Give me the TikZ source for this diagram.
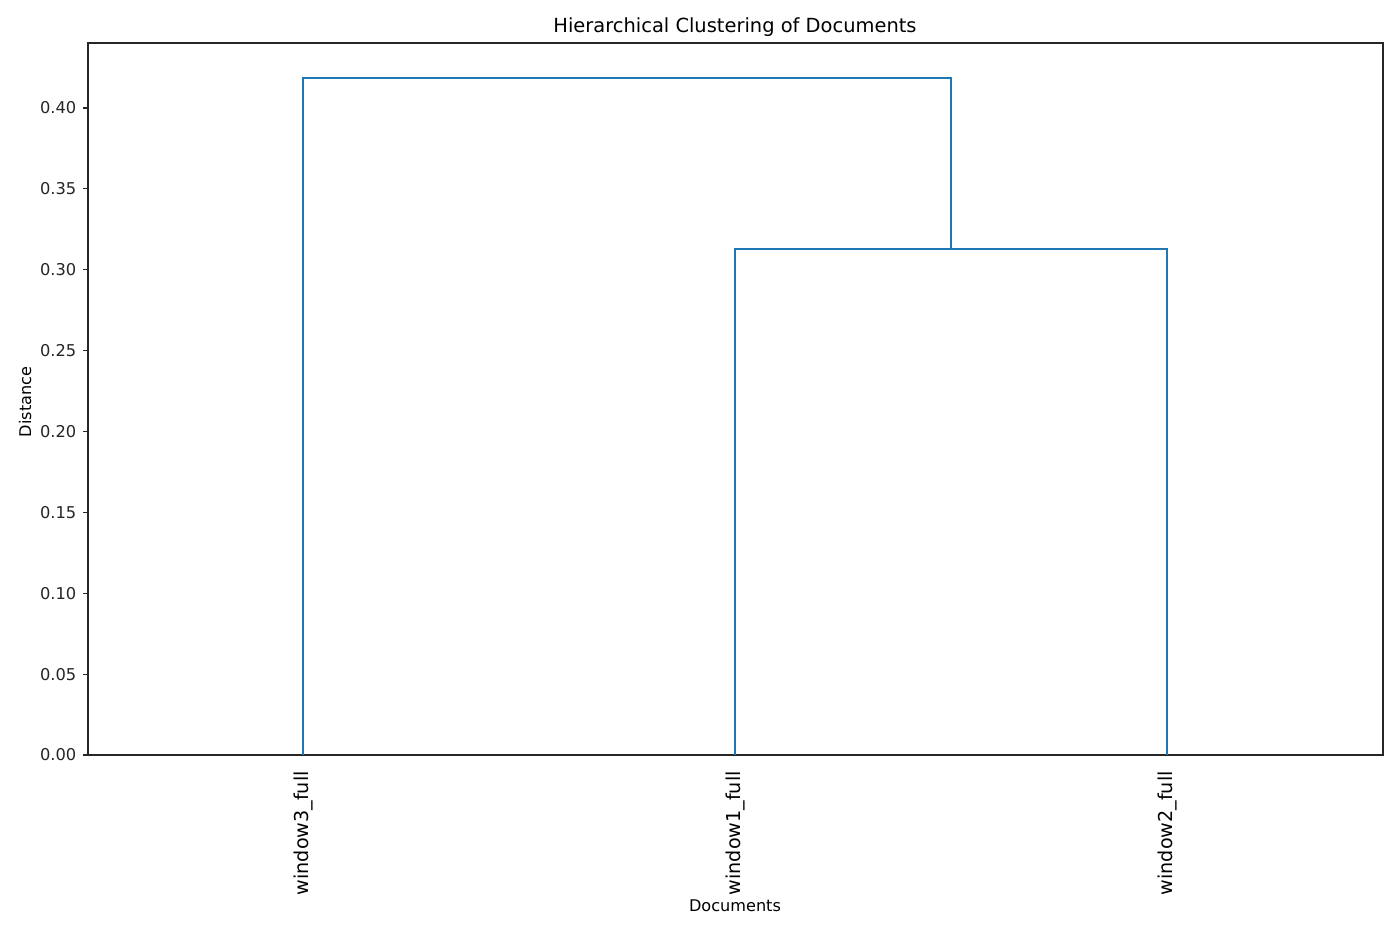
\documentclass[tikz,border=0pt]{standalone}
\usepackage{fontspec}
\setmainfont{DejaVu Sans}
\usetikzlibrary{positioning}
\definecolor{linkblue}{HTML}{1F77B4}
\tikzset{
  link/.style={linkblue, line width=1.5pt},
  axisline/.style={black!85, line width=0.8pt},
  ticklabel/.style={anchor=east, inner sep=0pt, font=\fontsize{11.7}{14}\selectfont},
  leaflabel/.style={rotate=90, anchor=east, inner sep=0pt, font=\fontsize{13.8}{16}\selectfont},
  axislabel/.style={inner sep=0pt, font=\fontsize{11.6}{14}\selectfont},
}

\begin{document}
\begin{tikzpicture}[x=0.72pt, y=-0.72pt]
\def\yz{755} %pixel row of distance 0
\def\ys{1617.5} %pixels per unit of distance
\useasboundingbox (0,0) rectangle (1400,933);
\fill[white] (0,0) rectangle (1400,933);
% frame of the axes
\draw[axisline] (88,43) rectangle (1383,755);
% y ticks and their labels
\foreach \v/\t [count=\i] in {0/0.00, 0.05/0.05, 0.1/0.10, 0.15/0.15, 0.2/0.20, 0.25/0.25, 0.3/0.30, 0.35/0.35, 0.4/0.40}{
  \draw[axisline] (88,{\yz-\v*\ys}) -- ++(-5,0)
    node[ticklabel, xshift=-4.5] (tick\i) {\t};
}
% leaves
\node[leaflabel] (w3) at (303,771) {window3\_full};
\node[leaflabel] (w1) at (735,771) {window1\_full};
\node[leaflabel] (w2) at (1167,771) {window2\_full};
\coordinate (l3) at (303,\yz);
\coordinate (l1) at (735,\yz);
\coordinate (l2) at (1167,\yz);
% merges: window1+window2 at 0.3128, then with window3 at 0.4186
\coordinate (k1) at (735,{\yz-0.3128*\ys});
\coordinate (k2) at (1167,{\yz-0.3128*\ys});
\coordinate (k12) at (951,{\yz-0.3128*\ys});
\coordinate (top3) at (303,{\yz-0.4186*\ys});
\coordinate (top12) at (951,{\yz-0.4186*\ys});
\draw[link] (l1) -- (k1) -- (k2) -- (l2);
\draw[link] (l3) -- (top3) -- (top12) -- (k12);
% title and axis labels
\node[inner sep=0pt, font=\fontsize{14}{17}\selectfont] (title) at (735,27) {Hierarchical Clustering of Documents};
\node[axislabel] (xlab) at (735,906) {Documents};
\node[axislabel, rotate=90] (ylab) at (25,402) {Distance};
\end{tikzpicture}
\end{document}
